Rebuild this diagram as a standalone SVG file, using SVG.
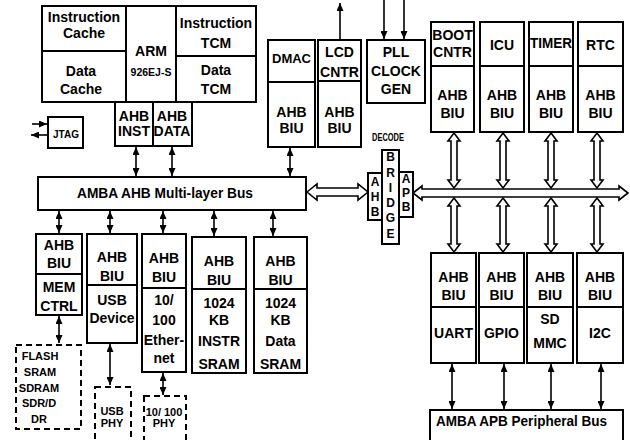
<svg xmlns="http://www.w3.org/2000/svg" width="630" height="440" viewBox="0 0 630 440">
<style>
.b{fill:#fff;stroke:#000;stroke-width:2}
.d{fill:#fff;stroke:#000;stroke-width:2;stroke-dasharray:6 4}
.l{stroke:#000;stroke-width:2;fill:none}
.c{stroke:#000;stroke-width:1.6;fill:none;marker-start:url(#ah);marker-end:url(#ah)}
.s{stroke:#000;stroke-width:1.6;fill:none;marker-end:url(#ah)}
.h{fill:#fff;stroke:#000;stroke-width:1.6}
text{font-family:"Liberation Sans",Arial,sans-serif;font-weight:bold;font-size:14px;text-anchor:middle;fill:#000}
.sm{font-size:11px}
.br{font-size:12px}
</style>
<defs>
<marker id="ah" viewBox="0 0 8 7" refX="8" refY="3.5" markerWidth="8" markerHeight="7" markerUnits="userSpaceOnUse" orient="auto-start-reverse">
<path d="M0,0 L8,3.5 L0,7 z" fill="#000"/>
</marker>
</defs>
<rect width="630" height="440" fill="#fff"/>
<g id="connectors">
<line class="s" x1="32" y1="124" x2="47" y2="124"/>
<line class="s" x1="47" y1="135" x2="31" y2="135"/>
<line class="c" x1="136" y1="147" x2="136" y2="176"/>
<line class="c" x1="172" y1="147" x2="172" y2="176"/>
<line class="c" x1="290" y1="148" x2="290" y2="176"/>
<line class="s" x1="340" y1="40" x2="340" y2="3"/>
<line class="s" x1="384" y1="0" x2="384" y2="39"/>
<line class="s" x1="404" y1="0" x2="404" y2="39"/>
<line class="c" x1="59" y1="211" x2="59" y2="233"/>
<line class="c" x1="110" y1="211" x2="110" y2="233"/>
<line class="c" x1="163" y1="211" x2="163" y2="233"/>
<line class="c" x1="214" y1="211" x2="214" y2="236"/>
<line class="c" x1="273" y1="211" x2="273" y2="236"/>
<line class="c" x1="59" y1="316" x2="59" y2="343"/>
<line class="c" x1="110" y1="344" x2="110" y2="385"/>
<line class="c" x1="163" y1="373" x2="163" y2="395"/>
<line class="c" x1="452" y1="364" x2="452" y2="409"/>
<line class="c" x1="504" y1="364" x2="504" y2="409"/>
<line class="c" x1="551" y1="364" x2="551" y2="409"/>
<line class="c" x1="601" y1="364" x2="601" y2="409"/>
<polygon class="h" points="307,192 317,184 317,188 358,188 358,184 368,192 358,200 358,196 317,196 317,200"/>
<polygon class="h" points="413,193 422,186 422,189 619,189 619,186 628,193 619,200 619,197 422,197 422,200"/>
<polygon class="h" points="454,133 460,141 457,141 457,180 460,180 454,188 448,180 451,180 451,141 448,141"/>
<polygon class="h" points="503,133 509,141 506,141 506,180 509,180 503,188 497,180 500,180 500,141 497,141"/>
<polygon class="h" points="551,133 557,141 554,141 554,180 557,180 551,188 545,180 548,180 548,141 545,141"/>
<polygon class="h" points="597,133 603,141 600,141 600,180 603,180 597,188 591,180 594,180 594,141 591,141"/>
<polygon class="h" points="454,198 460,206 457,206 457,244 460,244 454,252 448,244 451,244 451,206 448,206"/>
<polygon class="h" points="503,198 509,206 506,206 506,244 509,244 503,252 497,244 500,244 500,206 497,206"/>
<polygon class="h" points="551,198 557,206 554,206 554,244 557,244 551,252 545,244 548,244 548,206 545,206"/>
<polygon class="h" points="597,198 603,206 600,206 600,244 603,244 597,252 591,244 594,244 594,206 591,206"/>
</g>
<g id="arm">
<rect class="b" x="42" y="6" width="214" height="96"/>
<line class="l" x1="126" y1="6" x2="126" y2="102"/>
<line class="l" x1="176" y1="6" x2="176" y2="102"/>
<line class="l" x1="42" y1="51" x2="126" y2="51"/>
<line class="l" x1="176" y1="56" x2="256" y2="56"/>
<text x="84" y="22">Instruction</text>
<text x="84" y="38">Cache</text>
<text x="81" y="76">Data</text>
<text x="81" y="94">Cache</text>
<text x="151" y="56">ARM</text>
<text x="151" y="76" style="font-size:10.5px">926EJ-S</text>
<text x="216" y="28">Instruction</text>
<text x="216" y="48">TCM</text>
<text x="216" y="75">Data</text>
<text x="216" y="94">TCM</text>
</g>
<g id="ahb-inst-data">
<rect class="b" x="115" y="102" width="77" height="44"/>
<line class="l" x1="153" y1="102" x2="153" y2="146"/>
<text x="134" y="121">AHB</text>
<text x="134" y="136">INST</text>
<text x="172" y="121">AHB</text>
<text x="172" y="136">DATA</text>
</g>
<g id="jtag">
<rect class="b" x="48" y="117" width="35" height="31"/>
<text x="66" y="138" style="font-size:10px">JTAG</text>
</g>
<g id="dmac">
<rect class="b" x="268" y="40" width="47" height="107"/>
<line class="l" x1="268" y1="82" x2="315" y2="82"/>
<text x="291.5" y="63" style="font-size:13px">DMAC</text>
<text x="291.5" y="117">AHB</text>
<text x="291.5" y="133">BIU</text>
</g>
<g id="lcd">
<rect class="b" x="318" y="40" width="43" height="107"/>
<line class="l" x1="318" y1="81" x2="361" y2="81"/>
<text x="339.5" y="57">LCD</text>
<text x="339.5" y="77">CNTR</text>
<text x="339.5" y="117">AHB</text>
<text x="339.5" y="133">BIU</text>
</g>
<g id="pll">
<rect class="b" x="367" y="40" width="58" height="63"/>
<text x="396" y="57">PLL</text>
<text x="396" y="76">CLOCK</text>
<text x="396" y="94">GEN</text>
</g>
<g id="ahb-bus">
<rect class="b" x="38" y="177" width="268" height="33"/>
<text x="165" y="198" textLength="176" lengthAdjust="spacingAndGlyphs">AMBA AHB  Multi-layer  Bus</text>
</g>
<g id="bridge">
<text x="388" y="141" style="font-size:11px" textLength="32" lengthAdjust="spacingAndGlyphs">DECODE</text>
<rect class="b" x="382" y="150" width="17" height="94"/>
<rect class="b" x="368" y="173" width="14" height="47"/>
<rect class="b" x="399" y="172" width="14" height="45"/>
<text class="br" x="390.5" y="161">B</text>
<text class="br" x="390.5" y="177">R</text>
<text class="br" x="390.5" y="192">I</text>
<text class="br" x="390.5" y="207">D</text>
<text class="br" x="390.5" y="222">G</text>
<text class="br" x="390.5" y="238">E</text>
<text class="br" x="375" y="186">A</text>
<text class="br" x="375" y="201">H</text>
<text class="br" x="375" y="216">B</text>
<text class="br" x="406" y="183">A</text>
<text class="br" x="406" y="197">P</text>
<text class="br" x="406" y="211">B</text>
</g>
<g id="boot">
<rect class="b" x="431" y="22" width="43" height="110"/>
<line class="l" x1="431" y1="66" x2="474" y2="66"/>
<text x="452.5" y="40">BOOT</text>
<text x="452.5" y="57">CNTR</text>
<text x="452.5" y="100">AHB</text>
<text x="452.5" y="118">BIU</text>
</g>
<g id="icu">
<rect class="b" x="480" y="22" width="44" height="110"/>
<line class="l" x1="480" y1="66" x2="524" y2="66"/>
<text x="502" y="50">ICU</text>
<text x="502" y="100">AHB</text>
<text x="502" y="118">BIU</text>
</g>
<g id="timer">
<rect class="b" x="529" y="22" width="44" height="110"/>
<line class="l" x1="529" y1="66" x2="573" y2="66"/>
<text x="551" y="48" textLength="42" lengthAdjust="spacingAndGlyphs">TIMER</text>
<text x="551" y="100">AHB</text>
<text x="551" y="118">BIU</text>
</g>
<g id="rtc">
<rect class="b" x="578" y="22" width="45" height="110"/>
<line class="l" x1="578" y1="66" x2="623" y2="66"/>
<text x="600.5" y="50">RTC</text>
<text x="600.5" y="100">AHB</text>
<text x="600.5" y="118">BIU</text>
</g>
<g id="mem">
<rect class="b" x="36" y="234" width="46" height="81"/>
<line class="l" x1="36" y1="274" x2="82" y2="274"/>
<text x="59" y="250">AHB</text>
<text x="59" y="268">BIU</text>
<text x="59" y="292">MEM</text>
<text x="59" y="311">CTRL</text>
</g>
<g id="usb">
<rect class="b" x="87" y="234" width="50" height="109"/>
<line class="l" x1="87" y1="285" x2="137" y2="285"/>
<text x="112" y="262">AHB</text>
<text x="112" y="281">BIU</text>
<text x="112" y="305">USB</text>
<text x="112" y="323">Device</text>
</g>
<g id="ethernet">
<rect class="b" x="142" y="234" width="44" height="138"/>
<line class="l" x1="142" y1="288" x2="186" y2="288"/>
<text x="164" y="263">AHB</text>
<text x="164" y="282">BIU</text>
<text x="164" y="305">10/</text>
<text x="164" y="325">100</text>
<text x="164" y="345">Ether-</text>
<text x="164" y="363">net</text>
</g>
<g id="instr-sram">
<rect class="b" x="192" y="237" width="54" height="136"/>
<line class="l" x1="192" y1="289" x2="246" y2="289"/>
<text x="219" y="266">AHB</text>
<text x="219" y="285">BIU</text>
<text x="219" y="308">1024</text>
<text x="219" y="325">KB</text>
<text x="219" y="346">INSTR</text>
<text x="219" y="369">SRAM</text>
</g>
<g id="data-sram">
<rect class="b" x="254" y="237" width="53" height="136"/>
<line class="l" x1="254" y1="289" x2="307" y2="289"/>
<text x="280.5" y="266">AHB</text>
<text x="280.5" y="285">BIU</text>
<text x="280.5" y="308">1024</text>
<text x="280.5" y="325">KB</text>
<text x="280.5" y="346">Data</text>
<text x="280.5" y="369">SRAM</text>
</g>
<g id="flash">
<rect class="d" x="16" y="345" width="65" height="84"/>
<text class="sm" x="40" y="360">FLASH</text>
<text class="sm" x="40" y="376">SRAM</text>
<text class="sm" x="39" y="392">SDRAM</text>
<text class="sm" x="39" y="407">SDR/D</text>
<text class="sm" x="39" y="423">DR</text>
</g>
<g id="usb-phy">
<rect class="d" x="95" y="387" width="36" height="60"/>
<text class="sm" x="112" y="415">USB</text>
<text class="sm" x="112" y="427">PHY</text>
</g>
<g id="eth-phy">
<rect class="d" x="144" y="396" width="42" height="51"/>
<text class="sm" x="164" y="416">10/ 100</text>
<text class="sm" x="164" y="427">PHY</text>
</g>
<g id="uart">
<rect class="b" x="431" y="253" width="45" height="110"/>
<line class="l" x1="431" y1="307" x2="476" y2="307"/>
<text x="453.5" y="282">AHB</text>
<text x="453.5" y="300">BIU</text>
<text x="453.5" y="338">UART</text>
</g>
<g id="gpio">
<rect class="b" x="479" y="253" width="45" height="110"/>
<line class="l" x1="479" y1="307" x2="524" y2="307"/>
<text x="501.5" y="282">AHB</text>
<text x="501.5" y="300">BIU</text>
<text x="501.5" y="338">GPIO</text>
</g>
<g id="sdmmc">
<rect class="b" x="527" y="253" width="46" height="110"/>
<line class="l" x1="527" y1="307" x2="573" y2="307"/>
<text x="550" y="282">AHB</text>
<text x="550" y="300">BIU</text>
<text x="550" y="324">SD</text>
<text x="550" y="348">MMC</text>
</g>
<g id="i2c">
<rect class="b" x="577" y="253" width="46" height="110"/>
<line class="l" x1="577" y1="307" x2="623" y2="307"/>
<text x="600" y="282">AHB</text>
<text x="600" y="300">BIU</text>
<text x="600" y="338">I2C</text>
</g>
<g id="apb-bus">
<rect class="b" x="430" y="410" width="193" height="40"/>
<text x="436" y="426" style="text-anchor:start;font-size:14px" textLength="171" lengthAdjust="spacingAndGlyphs">AMBA APB Peripheral Bus</text>
</g>
</svg>
